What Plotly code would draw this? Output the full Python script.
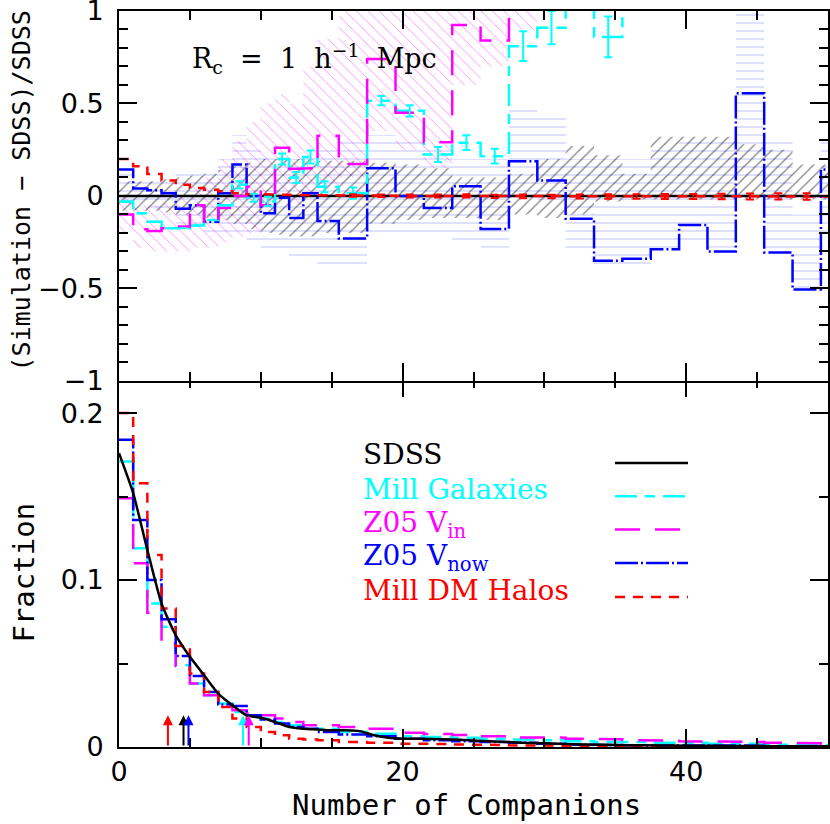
import numpy as np
import plotly.graph_objects as go

# ---------------- data ----------------
bin_centers = [0.5, 1.5, 2.5, 3.5, 4.5, 5.5, 6.5, 7.5, 8.5, 9.5, 10.5, 11.5, 12.5, 13.5, 14.5,
               16.5, 18.5, 20.5, 22.5, 24.5, 26.5, 28.5, 30.5, 32.5, 34.5, 36.5, 38.5, 40.5,
               42.5, 44.5, 46.5, 48.5, 50.5]
nan = float("nan")

# top panel: (Simulation - SDSS)/SDSS
ratio_sdss = [0.0] * 33
ratio_blue = [0.143, 0.04, 0.03, 0.015, -0.07, -0.05, -0.14, 0.015, 0.17, 0.0, -0.094, -0.01, -0.12,
              0.015, -0.135, -0.23, 0.15, 0.0, -0.066, 0.052, -0.179, 0.188, 0.084, -0.124, -0.35,
              -0.34, -0.288, -0.157, -0.30, 0.555, -0.306, -0.506, 0.143]
ratio_cyan = [-0.03, -0.094, -0.14, -0.175, -0.175, -0.16, -0.13, -0.05, 0.06, -0.01, -0.03, 0.2, 0.1,
              0.21, 0.05, 0.015, 0.515, 0.46, 0.224, 0.288, 0.215, 0.81, 0.91, 1.2, 0.86, 1.3,
              nan, nan, nan, nan, nan, nan, nan]
err_cyan = [0.0, 0.0, 0.0, 0.0, 0.0, 0.0, 0.0, 0.0, 0.02, 0.022, 0.025, 0.03, 0.03,
            0.035, 0.03, 0.03, 0.025, 0.03, 0.04, 0.04, 0.04, 0.08, 0.09, 0.1, 0.11, 0.12,
            nan, nan, nan, nan, nan, nan, nan]
ratio_magenta = [-0.1, -0.18, -0.19, -0.175, -0.165, -0.05, -0.14, -0.066, 0.0, 0.05, -0.05, 0.26,
                 0.146, 0.15, 0.325, 0.173, 0.74, 0.45, 0.29, 0.924, 0.84, 1.2,
                 nan, nan, nan, nan, nan, nan, nan, nan, nan, nan, nan]
ratio_red = [0.2, 0.16, 0.119, 0.084, 0.061, 0.043, 0.033, 0.025, 0.015, 0.01, 0.008, 0.006, 0.005,
             0.004, 0.003, 0.002, 0.001, 0.0, 0.0, 0.0, -0.002, -0.002, -0.003, -0.003, -0.003,
             -0.003, -0.003, -0.003, -0.003, -0.003, -0.003, -0.003, -0.003]
err_red = [0.003, 0.003, 0.003, 0.003, 0.003, 0.003, 0.004, 0.004, 0.004, 0.005, 0.005, 0.005, 0.006,
           0.006, 0.006, 0.007, 0.007, 0.008, 0.008, 0.009, 0.009, 0.01, 0.01, 0.011, 0.012, 0.012,
           0.013, 0.014, 0.015, 0.016, 0.017, 0.018, 0.018]

band_sdss_lo = [-0.08, -0.08, -0.08, -0.09, -0.1, -0.1, -0.12, -0.13, -0.15, -0.18, -0.2, -0.21, -0.22,
                -0.22, -0.2, -0.2, -0.15, -0.13, -0.12, -0.12, -0.13, -0.1, -0.12, -0.1, -0.03, -0.02,
                -0.02, -0.02, -0.02, -0.02, -0.02, -0.02, -0.02]
band_sdss_hi = [0.08, 0.08, 0.08, 0.09, 0.1, 0.11, 0.12, 0.14, 0.16, 0.18, 0.2, 0.2, 0.2, 0.2, 0.19,
                0.19, 0.18, 0.17, 0.15, 0.1, 0.1, 0.12, 0.2, 0.27, 0.22, 0.12, 0.32, 0.32, 0.32, 0.28,
                0.25, 0.17, 0.17]
band_blue_lo = [-0.05, -0.05, -0.07, -0.1, -0.15, -0.18, -0.2, -0.2, -0.2, -0.25, -0.3, -0.3, -0.34,
                -0.34, -0.38, -0.38, -0.2, -0.2, -0.22, -0.24, -0.28, 0.0, -0.05, -0.3, -0.37, -0.37,
                -0.3, -0.25, -0.28, 0.1, -0.3, -0.5, -0.2]
band_blue_hi = [0.15, 0.1, 0.1, 0.1, 0.12, 0.15, 0.15, 0.2, 0.33, 0.25, 0.22, 0.2, 0.2, 0.22, 0.25,
                0.3, 0.33, 0.3, 0.25, 0.2, 0.2, 0.48, 0.45, 0.2, 0.2, 0.2, 0.25, 0.32, 0.3, 1.0, 0.3,
                -0.1, 0.3]
band_mag_lo = [-0.2, -0.28, -0.3, -0.3, -0.3, -0.28, -0.28, -0.25, -0.22, -0.2, -0.1, 0.0, -0.05, 0.0,
               0.05, 0.1, 0.35, 0.25, 0.15, 0.6, 0.7, 0.9]
band_mag_hi = [0.0, -0.05, -0.05, -0.04, 0.0, 0.05, 0.1, 0.2, 0.3, 0.4, 0.5, 0.55, 0.5, 0.7, 0.85,
               1.0, 1.1, 1.1, 1.1, 1.2, 1.2, 1.5]

# bottom panel: fractions
frac_red = [0.200, 0.158, 0.115, 0.083, 0.0605, 0.044, 0.033, 0.024, 0.017, 0.012, 0.009, 0.007, 0.005,
            0.0045, 0.004, 0.003, 0.0025, 0.002, 0.0018, 0.0015, 0.0012, 0.001, 0.0008, 0.0007,
            0.0006, 0.0005, 0.0004, 0.0004, 0.0003, 0.0003, 0.0003, 0.0002, 0.0002]
frac_blue = [0.184, 0.136, 0.100, 0.0765, 0.0545, 0.0425, 0.033, 0.0255, 0.0245, 0.019, 0.0165, 0.014,
             0.012, 0.011, 0.009, 0.0075, 0.0065, 0.005, 0.004, 0.0035, 0.003, 0.0025, 0.002, 0.0015,
             0.0012, 0.001, 0.001, 0.0008, 0.0007, 0.0008, 0.0005, 0.0004, 0.0005]
frac_cyan = [0.171, 0.119, 0.086, 0.072, 0.049, 0.038, 0.031, 0.026, 0.021, 0.019, 0.017, 0.015, 0.013,
             0.011, 0.011, 0.009, 0.008, 0.0065, 0.006, 0.0055, 0.005, 0.0045, 0.004, 0.0035, 0.003,
             0.003, 0.0025, 0.0025, 0.002, 0.002, 0.0015, 0.0015, 0.0012]
frac_magenta = [0.149, 0.110, 0.0804, 0.062, 0.0485, 0.038, 0.031, 0.026, 0.022, 0.020, 0.019, 0.017,
                0.015, 0.013, 0.013, 0.012, 0.011, 0.0085, 0.0078, 0.0072, 0.0064, 0.0058, 0.0056,
                0.005, 0.0046, 0.0042, 0.0038, 0.0034, 0.0032, 0.003, 0.0026, 0.0022, 0.002]
sdss_x = [0, 1, 2, 3, 4, 5, 6, 7, 8, 9, 10, 11, 12, 13, 14, 15, 16, 17, 18, 19, 20, 22, 24, 26, 28,
          30, 32, 34, 36, 38, 40, 42, 44, 46, 48, 50]
sdss_frac = [0.176, 0.152, 0.118, 0.086, 0.067, 0.054, 0.043, 0.032, 0.025, 0.019, 0.0175, 0.015, 0.012,
             0.011, 0.0105, 0.010, 0.0100, 0.0095, 0.007, 0.0055, 0.005, 0.0048, 0.0043, 0.0035,
             0.0027, 0.0022, 0.0017, 0.0013, 0.0011, 0.0009, 0.0008, 0.0007, 0.0006, 0.0005, 0.0005,
             0.0004]
mean_x = [3.45, 4.55, 4.9, 8.75, 9.15]
mean_colors = ["#ff0000", "#000000", "#0000ff", "#00ffff", "#ff00ff"]

top_tickvals = [-1, -0.5, 0, 0.5, 1]
top_ticktext = ["\u22121", "\u22120.5", "0", "0.5", "1"]
bottom_tickvals = [0, 0.1, 0.2]
bottom_ticktext = ["0", "0.1", "0.2"]
x_tickvals = [0, 20, 40]

legend_names = ["SDSS", "Mill Galaxies", "Z05 V<sub>in</sub>", "Z05 V<sub>now</sub>", "Mill DM Halos"]
legend_colors = ["#000000", "#00ffff", "#ff00ff", "#0000ff", "#ff0000"]
legend_dash = ["solid", "22px,8px,10px,8px", "25px,15px", "23px,3px,2px,3px", "10px,8px"]

CYAN, MAG, BLUE, RED = "#00ffff", "#ff00ff", "#0000ff", "#ff0000"
DASH = {"cyan": "22px,8px,10px,8px", "mag": "25px,15px", "blue": "23px,3px,2px,3px", "red": "10px,8px"}


def step_xy(centers, vals):
    c = np.asarray(centers, float)[:len(vals)]
    v = np.asarray(vals, float)
    edges = np.empty(len(c) + 1)
    edges[1:-1] = (c[:-1] + c[1:]) / 2
    edges[0] = c[0] - (edges[1] - c[0])
    edges[-1] = c[-1] + (c[-1] - edges[-2])
    x = np.repeat(edges, 2)[1:-1]
    y = np.repeat(v, 2)
    return x, y


def band_xy(centers, lo, hi):
    xu, yu = step_xy(centers, hi)
    xl, yl = step_xy(centers, lo)
    return np.concatenate([xu, xl[::-1]]), np.concatenate([yu, yl[::-1]])


fig = go.Figure()

# ---- top panel bands ----
for lo, hi, shape, col, sol in [(band_blue_lo, band_blue_hi, "-", "#8c8cff", 0.14),
                                (band_mag_lo, band_mag_hi, "\\", MAG, 0.1),
                                (band_sdss_lo, band_sdss_hi, "/", "#000000", 0.15)]:
    bx, by = band_xy(bin_centers, lo, hi)
    fig.add_trace(go.Scatter(x=bx, y=by, xaxis="x2", yaxis="y2", mode="lines", fill="toself",
                             line=dict(width=0), fillcolor="rgba(0,0,0,0)",
                             fillpattern=dict(shape=shape, size=8, solidity=sol, fgcolor=col,
                                              bgcolor="rgba(0,0,0,0)"),
                             hoverinfo="skip", showlegend=False))

# ---- top panel lines ----
for vals, col, dash in [(ratio_sdss, "#000000", "solid"), (ratio_blue, BLUE, DASH["blue"]),
                        (ratio_cyan, CYAN, DASH["cyan"]), (ratio_magenta, MAG, DASH["mag"]),
                        (ratio_red, RED, DASH["red"])]:
    sx, sy = step_xy(bin_centers, vals)
    fig.add_trace(go.Scatter(x=sx, y=sy, xaxis="x2", yaxis="y2", mode="lines",
                             line=dict(color=col, width=2.5, dash=dash), showlegend=False))

fig.add_trace(go.Scatter(x=bin_centers, y=ratio_cyan, xaxis="x2", yaxis="y2", mode="markers",
                         marker=dict(size=1, color=CYAN, opacity=0),
                         error_y=dict(type="data", array=err_cyan, color=CYAN, thickness=2, width=4),
                         showlegend=False))
fig.add_trace(go.Scatter(x=bin_centers[15:], y=ratio_red[15:], xaxis="x2", yaxis="y2", mode="markers",
                         marker=dict(size=1, color=RED, opacity=0),
                         error_y=dict(type="data", array=err_red[15:], color=RED, thickness=2, width=4),
                         showlegend=False))

# ---- bottom panel ----
for vals, col, dash in [(frac_cyan, CYAN, DASH["cyan"]), (frac_magenta, MAG, DASH["mag"]),
                        (frac_blue, BLUE, DASH["blue"]), (frac_red, RED, DASH["red"])]:
    sx, sy = step_xy(bin_centers, vals)
    fig.add_trace(go.Scatter(x=sx, y=sy, xaxis="x", yaxis="y", mode="lines",
                             line=dict(color=col, width=2.5, dash=dash), showlegend=False))
fig.add_trace(go.Scatter(x=sdss_x, y=sdss_frac, xaxis="x", yaxis="y", mode="lines",
                         line=dict(color="#000000", width=2.5, shape="spline", smoothing=0.6),
                         showlegend=False))

# mean arrows
for mx, col in zip(mean_x, mean_colors):
    fig.add_annotation(x=mx, y=0.019, ax=mx, ay=0, xref="x", yref="y", axref="x", ayref="y",
                       showarrow=True, arrowhead=2, arrowsize=1, arrowwidth=2, arrowcolor=col, text="")

TICKFONT = dict(family="DejaVu Sans", size=27, color="black")
common_x = dict(range=[0, 50], showline=True, linewidth=2, linecolor="black", mirror="allticks",
                ticks="inside", ticklen=18, tickwidth=2, tickcolor="black", tickvals=x_tickvals,
                minor=dict(dtick=5, tick0=0, ticklen=9, tickwidth=2, ticks="inside", tickcolor="black"),
                showgrid=False, zeroline=False, tickfont=TICKFONT, automargin=False)
common_y = dict(showline=True, linewidth=2, linecolor="black", mirror="allticks",
                ticks="inside", ticklen=18, tickwidth=2, tickcolor="black",
                showgrid=False, zeroline=False, tickfont=TICKFONT, ticklabelstandoff=8,
                automargin=False, ticklabeloverflow="allow")

fig.update_layout(
    width=830, height=824,
    margin=dict(l=119, r=2, t=11, b=77, autoexpand=False),
    paper_bgcolor="white", plot_bgcolor="white",
    showlegend=False,
    xaxis=dict(common_x, domain=[0, 1], anchor="y"),
    yaxis=dict(common_y, domain=[0, 0.5], anchor="x", range=[0, 0.2204],
               tickvals=bottom_tickvals, ticktext=bottom_ticktext,
               minor=dict(dtick=0.05, tick0=0, ticklen=9, tickwidth=2, ticks="inside", tickcolor="black")),
    xaxis2=dict(common_x, domain=[0, 1], anchor="y2", matches="x", showticklabels=False),
    yaxis2=dict(common_y, domain=[0.4975, 1], anchor="x2", range=[-1, 1],
                tickvals=top_tickvals, ticktext=top_ticktext,
                minor=dict(dtick=0.1, tick0=0, ticklen=9, tickwidth=2, ticks="inside", tickcolor="black")),
)

TITLEFONT = dict(family="DejaVu Sans Mono", size=29, color="black")
fig.add_annotation(text="Number of Companions", xref="paper", yref="paper", x=0.49, y=-0.079,
                   xanchor="center", yanchor="middle", showarrow=False, font=TITLEFONT)
fig.add_annotation(text="Fraction", xref="paper", yref="paper", x=-0.134, y=0.237, textangle=-90,
                   xanchor="center", yanchor="middle", showarrow=False, font=TITLEFONT)
fig.add_annotation(text="(Simulation \u2212 SDSS)/SDSS", xref="paper", yref="paper", x=-0.137, y=0.756,
                   textangle=-90, xanchor="center", yanchor="middle", showarrow=False,
                   font=dict(family="DejaVu Sans Mono", size=25, color="black"))

SERIF = "DejaVu Serif"
fig.add_annotation(text="R<sub>c</sub>\u00a0\u00a0=\u00a0\u00a01\u00a0\u00a0h<sup>\u22121</sup>\u00a0\u00a0Mpc",
                   xref="paper", yref="paper", x=(190 - 119) / 709, y=0.935, xanchor="left",
                   yanchor="middle", showarrow=False, font=dict(family=SERIF, size=27, color="black"))

text_y = [454, 489, 524, 557, 590]
line_y = [462.7, 496, 529.3, 562.7, 596.7]
for name, col, dash, ty, ly in zip(legend_names, legend_colors, legend_dash, text_y, line_y):
    fig.add_annotation(text=name, xref="paper", yref="paper", x=(361 - 119) / 709, y=(747 - ty) / 737,
                       xanchor="left", yanchor="middle", showarrow=False,
                       font=dict(family=SERIF, size=28, color=col))
    fig.add_shape(type="line", xref="paper", yref="paper", x0=(615 - 119) / 709, x1=(688 - 119) / 709,
                  y0=(747 - ly) / 737, y1=(747 - ly) / 737, line=dict(color=col, width=2.5, dash=dash))

fig.write_html("out.html", config={"displayModeBar": False},
               post_script="document.body.style.margin='0px';document.body.style.padding='0px';")
